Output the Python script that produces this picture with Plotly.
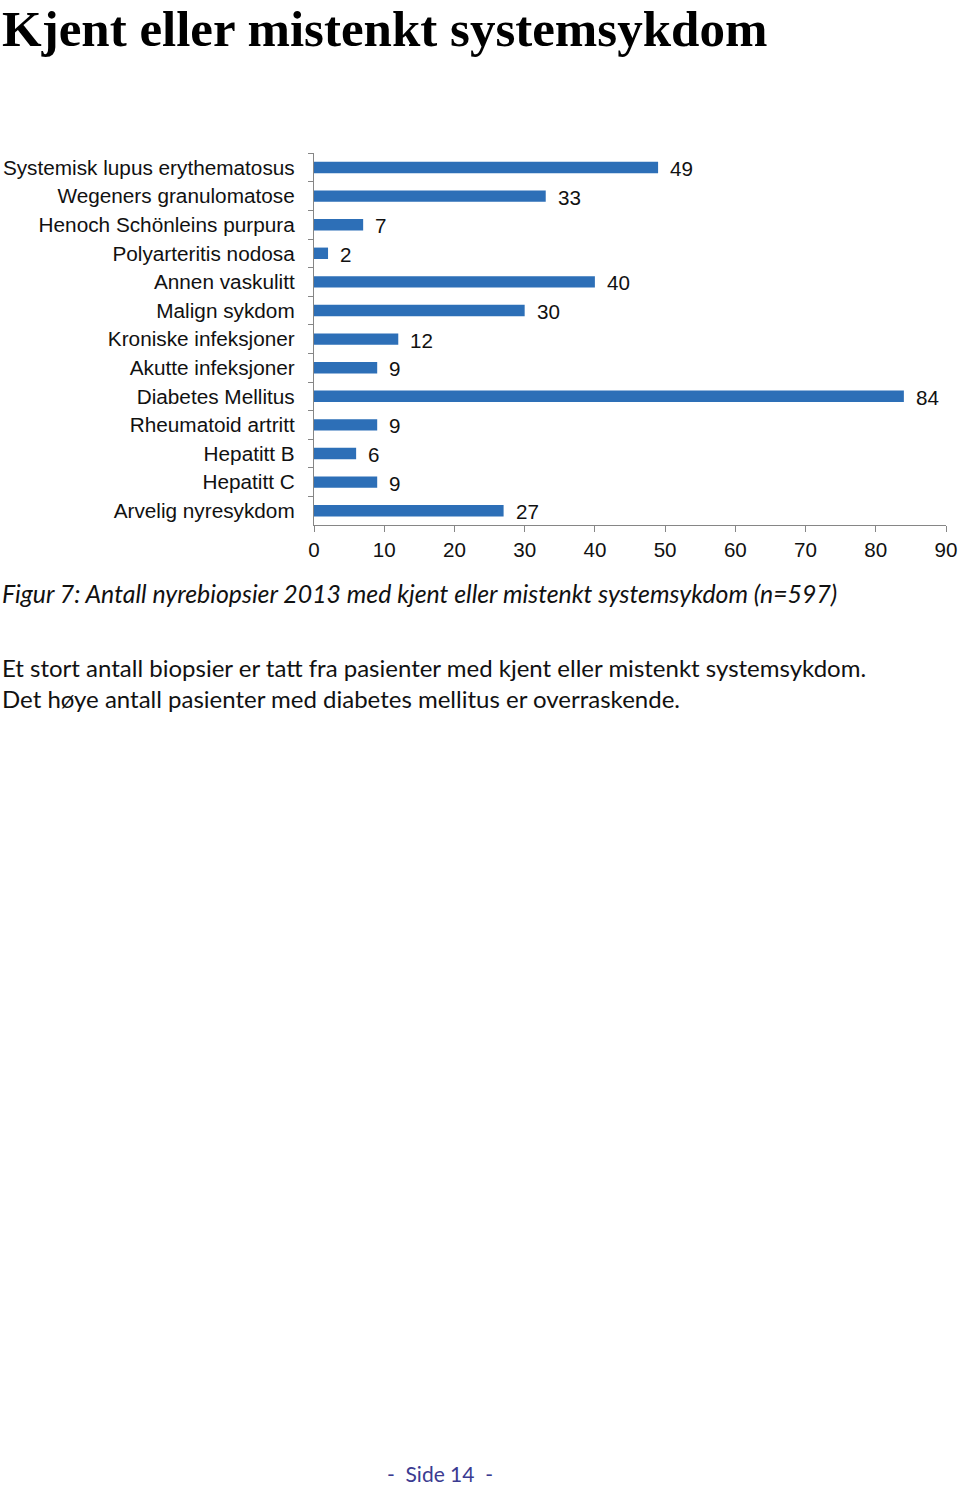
import plotly.graph_objects as go

categories = [
    "Systemisk lupus erythematosus",
    "Wegeners granulomatose",
    "Henoch Schönleins purpura",
    "Polyarteritis nodosa",
    "Annen vaskulitt",
    "Malign sykdom",
    "Kroniske infeksjoner",
    "Akutte infeksjoner",
    "Diabetes Mellitus",
    "Rheumatoid artritt",
    "Hepatitt B",
    "Hepatitt C",
    "Arvelig nyresykdom",
]
values = [49, 33, 7, 2, 40, 30, 12, 9, 84, 9, 6, 9, 27]
x_ticks = [0, 10, 20, 30, 40, 50, 60, 70, 80, 90]

W, H = 960, 1486
L, R, T, B = 314, 946, 153, 525

def px_x(px):
    return (px - L) / (R - L)

def px_y(py):
    return (B - py) / (B - T)

ARIAL = "Liberation Sans, Arial"
CAL = "Lato, Open Sans"

fig = go.Figure()
fig.add_trace(go.Bar(
    x=values, y=categories, orientation="h",
    marker=dict(color="#2D6FB7", line=dict(width=0)),
    hoverinfo="x+y",
))

annotations = []
for c, v in zip(categories, values):
    annotations.append(dict(
        x=v, y=c, xref="x", yref="y", text=str(v), showarrow=False,
        xanchor="left", yanchor="middle", xshift=10, yshift=-1,
        font=dict(family=ARIAL, size=20.6, color="#111111"),
    ))

annotations += [
    dict(x=px_x(-0.5), y=px_y(29), xref="paper", yref="paper",
         text="<b>Kjent eller mistenkt systemsykdom</b>", showarrow=False,
         xanchor="left", yanchor="middle",
         font=dict(family="Liberation Serif, Times New Roman", size=51, color="#000000")),
    dict(x=px_x(-0.5), y=px_y(593), xref="paper", yref="paper",
         text="<i>Figur 7: Antall nyrebiopsier 2013 med kjent eller mistenkt systemsykdom (n=597)</i>",
         showarrow=False, xanchor="left", yanchor="middle",
         font=dict(family=CAL, size=24.85, color="#111111")),
    dict(x=px_x(-0.5), y=px_y(683), xref="paper", yref="paper",
         text="Et stort antall biopsier er tatt fra pasienter med kjent eller mistenkt systemsykdom.<br>"
              "Det høye antall pasienter med diabetes mellitus er overraskende.",
         showarrow=False, xanchor="left", yanchor="middle", align="left",
         font=dict(family=CAL, size=24.0, color="#111111")),
    dict(x=px_x(440), y=px_y(1473), xref="paper", yref="paper",
         text="-  Side 14  -", showarrow=False, xanchor="center", yanchor="middle",
         font=dict(family=CAL, size=21, color="#3B3B91")),
]

fig.update_layout(
    width=W, height=H,
    margin=dict(l=L, r=W - R, t=T, b=H - B, pad=0, autoexpand=False),
    paper_bgcolor="white", plot_bgcolor="white",
    bargap=0.6,
    showlegend=False,
    annotations=annotations,
    xaxis=dict(
        range=[0, 90], tickvals=x_ticks, ticktext=[str(t) for t in x_ticks],
        showgrid=False, zeroline=False, automargin=False,
        showline=True, linecolor="#868686", linewidth=1.3,
        ticks="outside", ticklen=6, tickcolor="#868686", tickwidth=1.3,
        tickfont=dict(family=ARIAL, size=20.6, color="#111111"),
        fixedrange=True,
    ),
    yaxis=dict(
        autorange="reversed", type="category",
        showgrid=False, zeroline=False, automargin=False,
        showline=True, linecolor="#868686", linewidth=1.3,
        ticks="outside", ticklen=5, tickcolor="#868686", tickwidth=1.3,
        tickson="boundaries", ticklabelstandoff=14,
        tickfont=dict(family=ARIAL, size=20.75, color="#111111"),
        fixedrange=True,
    ),
)

fig.write_html(
    "out.html",
    config={"responsive": False, "displayModeBar": False},
    post_script="document.body.style.margin='0';document.body.style.overflow='hidden';",
)
